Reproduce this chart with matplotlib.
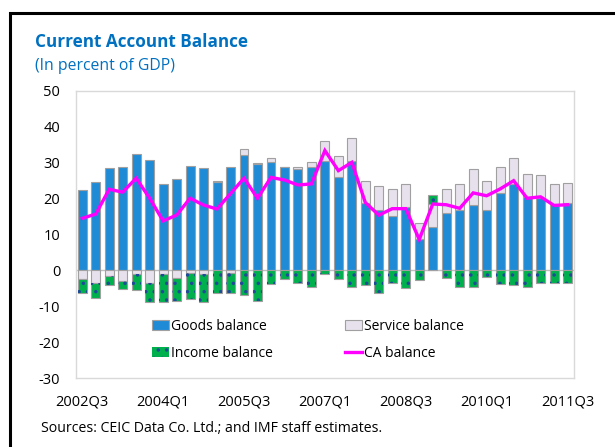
import numpy as np
import matplotlib
matplotlib.use("Agg")
import matplotlib.pyplot as plt
from matplotlib.lines import Line2D
from matplotlib.patches import Patch

plt.rcParams['font.family'] = ['Open Sans', 'DejaVu Sans']
plt.rcParams['hatch.linewidth'] = 1.3

quarters = ["2002Q3", "2002Q4",
            "2003Q1", "2003Q2", "2003Q3", "2003Q4",
            "2004Q1", "2004Q2", "2004Q3", "2004Q4",
            "2005Q1", "2005Q2", "2005Q3", "2005Q4",
            "2006Q1", "2006Q2", "2006Q3", "2006Q4",
            "2007Q1", "2007Q2", "2007Q3", "2007Q4",
            "2008Q1", "2008Q2", "2008Q3", "2008Q4",
            "2009Q1", "2009Q2", "2009Q3", "2009Q4",
            "2010Q1", "2010Q2", "2010Q3", "2010Q4",
            "2011Q1", "2011Q2", "2011Q3"]

goods = [22.4, 24.5, 28.4, 28.8, 32.5, 30.7, 24.0, 25.4, 29.1, 28.6,
         24.5, 28.9, 32.2, 29.6, 30.1, 28.7, 28.2, 28.9, 30.6, 26.1,
         30.4, 18.9, 16.7, 15.1, 17.6, 8.8, 12.0, 15.9, 16.7, 18.1,
         16.7, 21.7, 24.0, 20.4, 20.1, 18.6, 18.7]
service = [-2.5, -3.4, -1.7, -3.1, -0.9, -3.4, -1.0, -2.0, -0.7, -1.0,
           0.5, -0.6, 1.5, 0.2, 1.1, 0.2, 0.5, 1.3, 5.4, 5.9,
           6.4, 6.0, 6.7, 7.5, 6.4, 4.5, 6.4, 6.7, 7.5, 10.2,
           8.1, 7.0, 7.2, 6.6, 6.6, 5.6, 5.7]
income = [-3.9, -4.4, -2.5, -2.2, -4.6, -5.5, -7.8, -6.6, -7.2, -7.9,
          -6.4, -5.8, -6.9, -8.4, -3.9, -2.5, -3.4, -4.6, -1.0, -2.5,
          -4.7, -4.2, -6.2, -3.4, -5.0, -2.8, 2.5, -2.0, -4.7, -4.7,
          -1.9, -3.9, -4.2, -4.7, -3.6, -3.6, -3.4]
ca = [14.5, 15.7, 22.6, 21.8, 25.7, 20.1, 13.8, 15.4, 20.1, 18.2,
      17.1, 21.4, 25.7, 20.1, 25.9, 25.2, 23.8, 24.1, 33.4, 27.8,
      30.1, 18.9, 15.4, 17.2, 17.2, 8.6, 18.5, 18.3, 17.3, 21.6,
      20.8, 22.7, 25.0, 20.1, 20.5, 18.1, 18.3]

yticks = [-30, -20, -10, 0, 10, 20, 30, 40, 50]

BLUE = '#1F8BD6'
LAV = '#E7E1ED'
GREEN = '#00B04C'
DOTS = '#1F4A9A'
EDGE = '#A0A0A0'
MAG = '#FF00FF'
TITLE = '#0070C0'

g = np.array(goods)
s = np.array(service)
inc = np.array(income)
x = np.arange(len(quarters))

s_bottom = np.where(s >= 0, g, 0.0)
i_bottom = np.where(inc >= 0, g + np.maximum(s, 0), np.minimum(s, 0))

fig = plt.figure(figsize=(6.15, 4.47), dpi=100)
ax = fig.add_axes([75.5 / 615, 1 - 378 / 447, (574.3 - 75.5) / 615, (378 - 91) / 447])

w = 0.66
ax.bar(x, g, w, color=BLUE, edgecolor=EDGE, linewidth=0.8, zorder=2)
ax.bar(x, s, w, bottom=s_bottom, color=LAV, edgecolor=EDGE, linewidth=0.8, zorder=2)
ax.bar(x, inc, w, bottom=i_bottom, color=GREEN, edgecolor=EDGE, linewidth=0.8, zorder=2)
ax.bar(x, inc, w, bottom=i_bottom, facecolor='none', edgecolor=DOTS, hatch='..',
       linewidth=0, zorder=3)
ax.axhline(0, color='#BFBFBF', lw=1.0, zorder=1.5)
ax.plot(x, ca, color=MAG, lw=2.4, zorder=4, solid_joinstyle='miter')

ax.set_xlim(-0.5, len(quarters) - 0.5)
ax.set_ylim(-30, 50)
ax.set_yticks(yticks)
ax.set_yticklabels([str(v) for v in yticks])
tick_idx = list(range(0, len(quarters), 6))
ax.set_xticks(tick_idx)
ax.set_xticklabels([quarters[i] for i in tick_idx])
ax.tick_params(axis='both', length=0, labelsize=10.5, colors='black')
ax.tick_params(axis='y', pad=11)
ax.tick_params(axis='x', pad=12)
for sp in ax.spines.values():
    sp.set_color('#D9D9D9')
    sp.set_linewidth(1.0)

handles = [Patch(facecolor=BLUE, edgecolor=EDGE, linewidth=0.8),
           Patch(facecolor=GREEN, edgecolor=DOTS, hatch='..', linewidth=0),
           Patch(facecolor=LAV, edgecolor=EDGE, linewidth=0.8),
           Line2D([0], [0], color=MAG, lw=2.4)]
labels = ["Goods balance", "Income balance", "Service balance", "CA balance"]
leg = ax.legend(handles, labels, ncol=2, loc='upper left',
                bbox_to_anchor=(152 / 615, 1 - 319 / 447), bbox_transform=fig.transFigure,
                frameon=False, fontsize=10, handlelength=1.25, handleheight=0.65,
                handletextpad=0.1, columnspacing=5.2, labelspacing=0.85,
                borderpad=0, borderaxespad=0)

fig.text(35 / 615, 1 - 42 / 447, "Current Account Balance", color=TITLE,
         fontsize=12.3, fontweight='bold', va='center', ha='left')
fig.text(35 / 615, 1 - 66 / 447, "(In percent of GDP)", color=TITLE,
         fontsize=11.3, va='center', ha='left')
fig.text(41 / 615, 1 - 429 / 447, "Sources: CEIC Data Co. Ltd.; and IMF staff estimates.",
         color='black', fontsize=10.2, va='center', ha='left')

fig.add_artist(Line2D([10 / 615, 10 / 615, 1.0], [0.0, 1 - 13 / 447, 1 - 13 / 447],
                      color='black', lw=2.2, transform=fig.transFigure,
                      solid_joinstyle='miter', solid_capstyle='projecting'))

fig.savefig("out.png", dpi=100)
